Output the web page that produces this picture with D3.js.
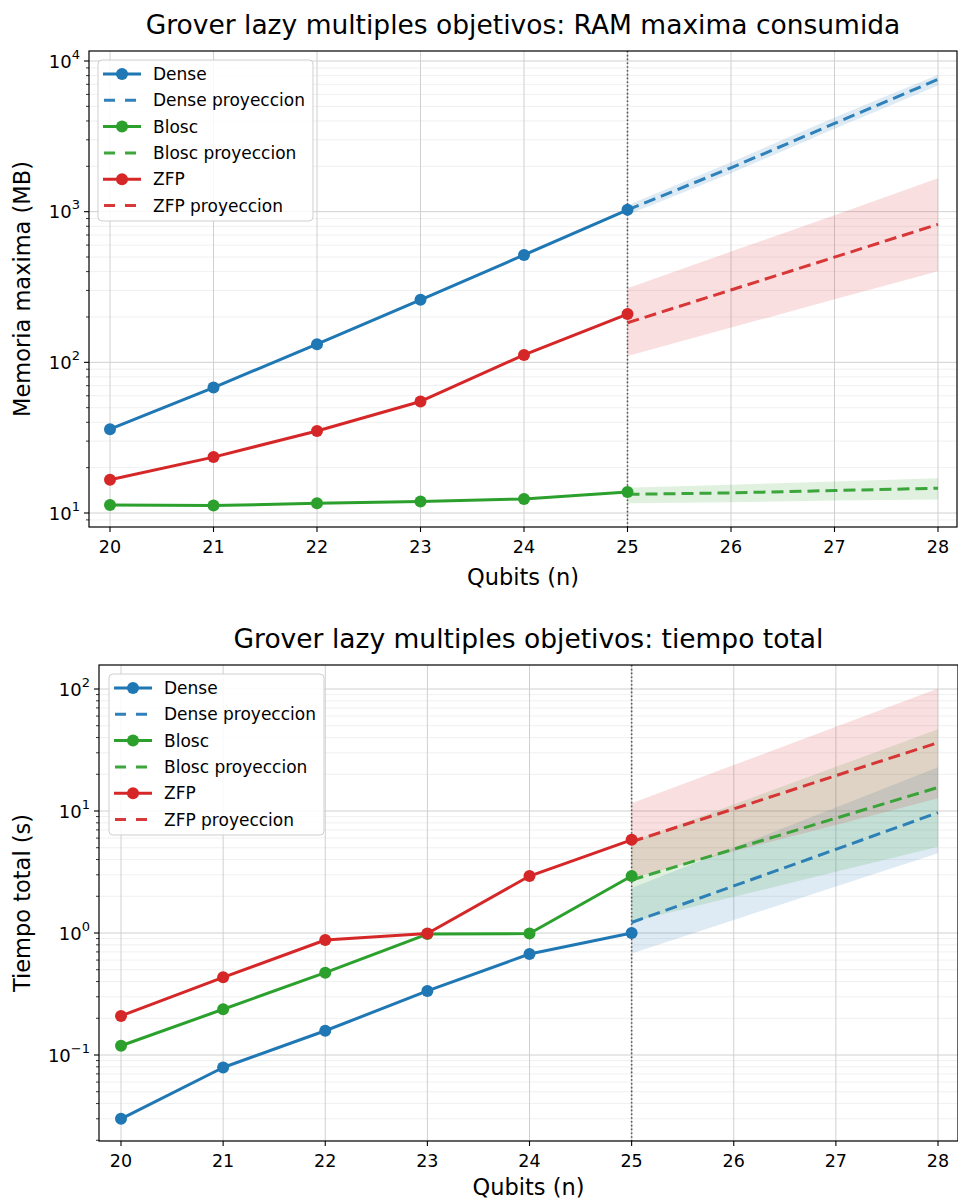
<!DOCTYPE html>
<html><head><meta charset="utf-8">
<script src="https://cdn.jsdelivr.net/npm/d3@7"></script>
<style>
body{margin:0;background:#fff;}
svg{display:block;font-family:"DejaVu Sans",sans-serif;}
</style></head>
<body><svg id="c" width="958" height="1201"></svg>
<script>
// ---------- data ----------
const qubits = [20, 21, 22, 23, 24, 25];
const projQubits = [25, 26, 27, 28];
const xTicks = [20, 21, 22, 23, 24, 25, 26, 27, 28];

// RAM (MB)
const memDense = [36, 68, 132, 260, 516, 1028];
const memBlosc = [11.3, 11.2, 11.6, 11.9, 12.4, 13.8];
const memZfp   = [16.6, 23.5, 35, 55, 112, 209];
const memDenseProj = [1028, 1955, 3850, 7550];
const memDenseLo   = [955, 1800, 3550, 6880];
const memDenseHi   = [1105, 2130, 4220, 8100];
const memBloscProj = [13.3, 13.6, 14.1, 14.6];
const memBloscLo   = [11.6, 11.8, 12.1, 12.3];
const memBloscHi   = [14.7, 15.4, 16.2, 17.0];
const memZfpProj   = [183, 302, 499, 824];
const memZfpLo     = [110, 170, 262, 403];
const memZfpHi     = [310, 543, 948, 1664];

// total time (s)
const timeDense = [0.03, 0.079, 0.158, 0.335, 0.673, 1.0];
const timeBlosc = [0.119, 0.237, 0.473, 0.98, 0.99, 2.93];
const timeZfp   = [0.209, 0.433, 0.876, 0.99, 2.93, 5.8];
const timeDenseProj = [1.22, 2.43, 4.85, 9.7];
const timeDenseLo   = [0.68, 1.28, 2.41, 4.5];
const timeDenseHi   = [2.34, 5.0, 10.7, 22.8];
const timeBloscProj = [2.72, 4.87, 8.73, 15.6];
const timeBloscLo   = [1.23, 1.98, 3.17, 5.1];
const timeBloscHi   = [5.57, 11.3, 23.0, 46.7];
const timeZfpProj   = [5.6, 10.4, 19.5, 36.3];
const timeZfpLo     = [2.82, 4.67, 7.69, 12.7];
const timeZfpHi     = [11.6, 23.8, 49.1, 101];

const seriesNames = ["Dense", "Blosc", "ZFP"];
const colors = {Dense: "#1f77b4", Blosc: "#2ca02c", ZFP: "#d62728"};

const svg = d3.select("#c");

function drawPanel(cfg) {
  const {box, x, y, yMinorMin, yMinorMax, decades, title, ylabel, series, legendPos, clipId, xlabelOffset} = cfg;
  const g = svg.append("g");
  g.append("defs").append("clipPath").attr("id", clipId)
    .append("rect").attr("x", box.l).attr("y", box.t).attr("width", box.r - box.l).attr("height", box.b - box.t);

  const minor = [];
  for (let e = yMinorMin; e <= yMinorMax; e++) {
    for (let m = 2; m <= 9; m++) {
      const v = m * Math.pow(10, e);
      const py = y(v);
      if (py > box.t && py < box.b) minor.push(v);
    }
  }
  const grid = g.append("g");
  grid.selectAll(".mg").data(minor).join("line")
    .attr("x1", box.l).attr("x2", box.r).attr("y1", d => y(d)).attr("y2", d => y(d))
    .attr("stroke", "#ececec").attr("stroke-width", 0.8);
  grid.selectAll(".Mg").data(decades).join("line")
    .attr("x1", box.l).attr("x2", box.r).attr("y1", d => y(d)).attr("y2", d => y(d))
    .attr("stroke", "#d0d0d0").attr("stroke-width", 1);
  grid.selectAll(".xg").data(xTicks).join("line")
    .attr("x1", d => x(d)).attr("x2", d => x(d)).attr("y1", box.t).attr("y2", box.b)
    .attr("stroke", "#d0d0d0").attr("stroke-width", 1);

  const plot = g.append("g").attr("clip-path", `url(#${clipId})`);

  series.forEach(s => {
    const area = d3.area().x((d, i) => x(projQubits[i])).y0((d, i) => y(s.lo[i])).y1((d, i) => y(s.hi[i]));
    plot.append("path").datum(s.proj).attr("d", area)
      .attr("fill", colors[s.name]).attr("fill-opacity", 0.15);
  });

  plot.append("line").attr("x1", x(25)).attr("x2", x(25)).attr("y1", box.t).attr("y2", box.b)
    .attr("stroke", "#555").attr("stroke-width", 1.6).attr("stroke-dasharray", "1.6,2.2");

  const line = d3.line().x((d, i) => x(qubits[i])).y(d => y(d));
  series.forEach(s => {
    plot.append("path").datum(s.vals).attr("d", line).attr("fill", "none")
      .attr("stroke", colors[s.name]).attr("stroke-width", 3).attr("stroke-linejoin", "round");
    plot.selectAll(null).data(s.vals).join("circle")
      .attr("cx", (d, i) => x(qubits[i])).attr("cy", d => y(d)).attr("r", 6)
      .attr("fill", colors[s.name]);
  });
  const pline = d3.line().x((d, i) => x(projQubits[i])).y(d => y(d));
  series.forEach(s => {
    plot.append("path").datum(s.proj).attr("d", pline).attr("fill", "none")
      .attr("stroke", colors[s.name]).attr("stroke-width", 3).attr("stroke-opacity", 0.92)
      .attr("stroke-dasharray", "12,6");
  });

  g.append("rect").attr("x", box.l).attr("y", box.t).attr("width", box.r - box.l).attr("height", box.b - box.t)
    .attr("fill", "none").attr("stroke", "#000").attr("stroke-width", 1.2);

  const xa = g.append("g");
  xa.selectAll("line").data(xTicks).join("line")
    .attr("x1", d => x(d)).attr("x2", d => x(d)).attr("y1", box.b).attr("y2", box.b + 5)
    .attr("stroke", "#000").attr("stroke-width", 1.1);
  xa.selectAll("text").data(xTicks).join("text")
    .attr("x", d => x(d)).attr("y", box.b + 26).attr("text-anchor", "middle")
    .attr("font-size", 17.5).attr("fill", "#000").text(d => d);
  g.append("text").attr("x", (box.l + box.r) / 2).attr("y", box.b + xlabelOffset).attr("text-anchor", "middle")
    .attr("font-size", 22.5).text("Qubits (n)");

  const ya = g.append("g");
  ya.selectAll(".M").data(decades).join("line")
    .attr("x1", box.l - 5).attr("x2", box.l).attr("y1", d => y(d)).attr("y2", d => y(d))
    .attr("stroke", "#000").attr("stroke-width", 1.1);
  ya.selectAll(".m").data(minor).join("line")
    .attr("x1", box.l - 3).attr("x2", box.l).attr("y1", d => y(d)).attr("y2", d => y(d))
    .attr("stroke", "#000").attr("stroke-width", 0.8);
  decades.forEach(d => {
    const e = Math.round(Math.log10(d));
    const t = ya.append("text").attr("x", box.l - 9).attr("y", y(d) + 6.5).attr("text-anchor", "end")
      .attr("font-size", 18).attr("fill", "#000");
    t.append("tspan").text("10");
    t.append("tspan").attr("dy", -9).attr("font-size", 13).text(e < 0 ? "\u2212" + (-e) : e);
  });
  g.append("text").attr("transform", `translate(30,${(box.t + box.b) / 2}) rotate(-90)`)
    .attr("text-anchor", "middle").attr("font-size", 22.5).text(ylabel);

  g.append("text").attr("x", (box.l + box.r) / 2).attr("y", box.t - 17).attr("text-anchor", "middle")
    .attr("font-size", 26.5).text(title);

  const lg = g.append("g").attr("transform", `translate(${legendPos[0]},${legendPos[1]})`);
  lg.append("rect").attr("x", 0).attr("y", 0).attr("width", 215).attr("height", 161).attr("rx", 4)
    .attr("fill", "#fff").attr("fill-opacity", 0.85).attr("stroke", "#cfcfcf").attr("stroke-width", 1);
  const items = [];
  seriesNames.forEach(n => { items.push({name: n, label: n, dashed: false}); items.push({name: n, label: n + " proyeccion", dashed: true}); });
  items.forEach((it, i) => {
    const cy = 14 + i * 26.3;
    if (it.dashed) {
      lg.append("line").attr("x1", 6).attr("x2", 43).attr("y1", cy).attr("y2", cy)
        .attr("stroke", colors[it.name]).attr("stroke-width", 3).attr("stroke-opacity", 0.92)
        .attr("stroke-dasharray", "11,10");
    } else {
      lg.append("line").attr("x1", 5).attr("x2", 43).attr("y1", cy).attr("y2", cy)
        .attr("stroke", colors[it.name]).attr("stroke-width", 3);
      lg.append("circle").attr("cx", 24).attr("cy", cy).attr("r", 6).attr("fill", colors[it.name]);
    }
    lg.append("text").attr("x", 55).attr("y", cy + 6).attr("font-size", 17).text(it.label);
  });
}

drawPanel({
  box: {l: 89, r: 957, t: 51, b: 527},
  x: d3.scaleLinear().domain([20, 28]).range([110, 938]),
  y: d3.scaleLog().domain([10, 10000]).range([513, 61]),
  yMinorMin: 0, yMinorMax: 4,
  decades: [10, 100, 1000, 10000],
  title: "Grover lazy multiples objetivos: RAM maxima consumida",
  ylabel: "Memoria maxima (MB)",
  legendPos: [98, 60],
  clipId: "clipTop",
  xlabelOffset: 58,
  series: [
    {name: "Dense", vals: memDense, proj: memDenseProj, lo: memDenseLo, hi: memDenseHi},
    {name: "Blosc", vals: memBlosc, proj: memBloscProj, lo: memBloscLo, hi: memBloscHi},
    {name: "ZFP", vals: memZfp, proj: memZfpProj, lo: memZfpLo, hi: memZfpHi}
  ]
});

drawPanel({
  box: {l: 99, r: 958, t: 665, b: 1141},
  x: d3.scaleLinear().domain([20, 28]).range([121, 938]),
  y: d3.scaleLog().domain([0.1, 100]).range([1055, 689]),
  yMinorMin: -2, yMinorMax: 2,
  decades: [0.1, 1, 10, 100],
  title: "Grover lazy multiples objetivos: tiempo total",
  ylabel: "Tiempo total (s)",
  legendPos: [109, 674],
  clipId: "clipBot",
  xlabelOffset: 54,
  series: [
    {name: "Dense", vals: timeDense, proj: timeDenseProj, lo: timeDenseLo, hi: timeDenseHi},
    {name: "Blosc", vals: timeBlosc, proj: timeBloscProj, lo: timeBloscLo, hi: timeBloscHi},
    {name: "ZFP", vals: timeZfp, proj: timeZfpProj, lo: timeZfpLo, hi: timeZfpHi}
  ]
});
</script></body></html>
